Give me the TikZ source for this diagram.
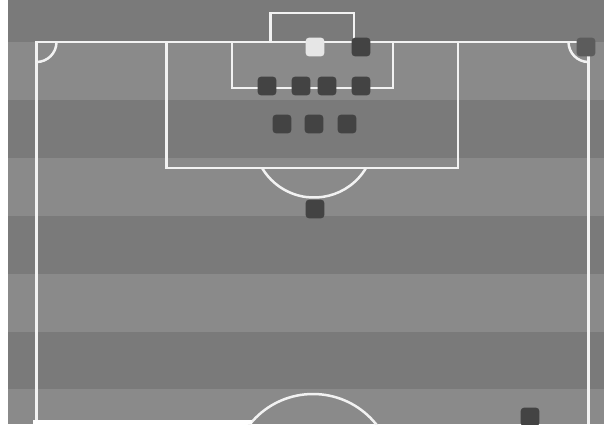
\documentclass[tikz,border=0pt]{standalone}
\usepackage{tikz}
\usetikzlibrary{positioning}
\definecolor{stripea}{HTML}{7A7A7A}
\definecolor{stripeb}{HTML}{8A8A8A}
\definecolor{linec}{HTML}{F2F2F2}
\definecolor{defc}{HTML}{434343}
\definecolor{keeperc}{HTML}{E6E6E6}
\definecolor{cornerc}{HTML}{5C5C5C}
\tikzset{
  pitchline/.style={linec, line width=1.25pt},
  player/.style={rectangle, rounded corners=1.6pt, minimum size=9.3pt, inner sep=0pt, fill=defc},
}

\begin{document}
\begin{tikzpicture}[x=0.5pt, y=-0.5pt]
  \useasboundingbox (0,0) rectangle (604,424);
  \clip (0,0) rectangle (604,424);
  \fill[white] (0,0) rectangle (604,424);
  % grass stripes
  \fill[stripeb] (8,0) rectangle (604,424);
  \foreach \k in {0,2,4,6} { \fill[stripea] (8,{42+57.9*(\k-1)}) rectangle (604,{42+57.9*\k}); }
  % markings
  \draw[pitchline] (36.5,424) |- (588.5,42) -- (588.5,424);
  \draw[pitchline] (166.5,42) |- (458,168) -- (458,42);
  \draw[pitchline] (232,42) |- (393,88) -- (393,42);
  \draw[pitchline] (270.5,42) |- (354,13) -- (354,42);
  \draw[pitchline] (56.5,42) arc[start angle=0, end angle=90, radius=20];
  \draw[pitchline] (568.5,42) arc[start angle=180, end angle=90, radius=20];
  \draw[pitchline] (366,168) arc[start angle=30.8, end angle=149.2, radius=60.5];
  \draw[pitchline] (313,475) circle[radius=81];
  \fill[white] (33,420) rectangle (252,424);
  % players
  \node[player, fill=keeperc] (keeper) at (315,47) {};
  \node[player, fill=cornerc] (corner) at (586,47) {};
  \foreach \n/\x/\y in {post/361/47, six1/267/86, six2/301/86, six3/327/86, six4/361/86,
                        box1/282/124, box2/314/124, box3/347/124, edge/315/209, wide/530/417}
    { \node[player] (\n) at (\x,\y) {}; }
\end{tikzpicture}
\end{document}
